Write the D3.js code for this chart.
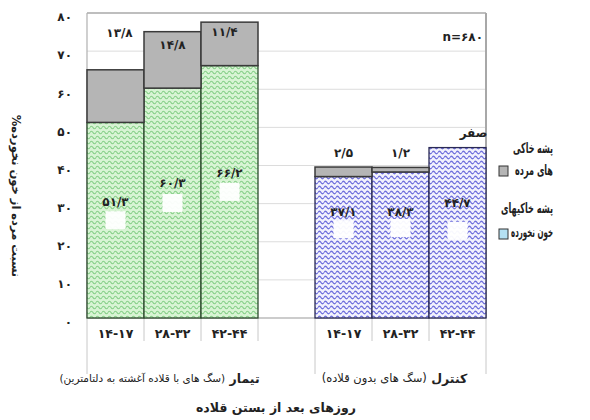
<!DOCTYPE html>
<html><head><meta charset="utf-8">
<script src="https://cdn.jsdelivr.net/npm/d3@7"></script>
<style>
html,body{margin:0;padding:0;background:#fff;}
text{font-family:"DejaVu Sans",sans-serif;}
</style></head>
<body>
<svg id="chart" width="590" height="420"></svg>
<script>
// ---- data ----
const categories   = ["۱۴-۱۷","۲۸-۳۲","۴۲-۴۴","","۱۴-۱۷","۲۸-۳۲","۴۲-۴۴"];
const unfedValues  = [51.3, 60.3, 66.2, null, 37.1, 38.3, 44.7];
const deadValues   = [13.8, 14.8, 11.4, null, 2.5, 1.2, 0];
const unfedLabels  = ["۵۱/۳","۶۰/۳","۶۶/۲","","۳۷/۱","۳۸/۳","۴۴/۷"];
const deadLabels   = ["۱۳/۸","۱۴/۸","۱۱/۴","","۲/۵","۱/۲","صفر"];
const yTickValues  = [0,10,20,30,40,50,60,70,80];
const yTickLabels  = ["۰","۱۰","۲۰","۳۰","۴۰","۵۰","۶۰","۷۰","۸۰"];
const groupNames   = ["تیمار","کنترل"];
const groupDetails = ["(سگ های با قلاده آغشته به دلتامترین)","(سگ های بدون قلاده)"];
const groupRanges  = [[0,2],[4,6]];
const legendLabels = [["پشه خاکی","های مرده"],["پشه خاکیهای","خون نخورده"]];
const yTitle = "نسبت مرده از خون نخورده%";
const xTitle = "روزهای بعد از بستن قلاده";
const nLabel = "n=۶۸۰";

// ---- layout (label nudges, px) ----
const deadNudgeY  = [-37, 13, 10, 0, -14, -14, -15];
const deadNudgeX  = [4, 0, -5, 0, 0, 0, 16];
const unfedLblDY  = [-18, -20, -19, 0, -35, -33, -30];
const boxDY       = [0, 0, 0, 0, -18, -17, -2];
const groupNudgeX = [-13, -6];
const legendTextW = [[40, 38], [52, 42]];

const svg = d3.select("#chart");
const L = 87, R = 486, T = 13, B = 318;
const x = d3.scaleBand().domain(d3.range(categories.length)).range([L, R]).padding(0);
const y = d3.scaleLinear().domain([0, 80]).range([B, T]);

// patterns
const defs = svg.append("defs");
function wave(id, bg, fg, sw){
  const p = defs.append("pattern").attr("id", id).attr("patternUnits","userSpaceOnUse")
    .attr("width", 6).attr("height", 5);
  p.append("rect").attr("width",6).attr("height",5).attr("fill",bg);
  p.append("path").attr("d","M0,2.5 Q1.5,0 3,2.5 T6,2.5").attr("fill","none")
    .attr("stroke",fg).attr("stroke-width",sw);
}
wave("wGreen", "#d8f4d4", "#86cf88", 1.2);
wave("wBlue", "#f2f2fd", "#6f6fdc", 1.3);

// gridlines
svg.append("g").selectAll("line").data(yTickValues.filter(v => v > 0)).join("line")
  .attr("x1", L).attr("x2", R).attr("y1", d => y(d)).attr("y2", d => y(d))
  .attr("stroke", d => d === 80 ? "#a8a8a8" : "#dcdcdc").attr("stroke-width", d => d === 80 ? 1.5 : 1);
// plot borders
svg.append("line").attr("x1", L).attr("x2", L).attr("y1", T).attr("y2", B).attr("stroke","#b0b0b0").attr("stroke-width",1.2);
svg.append("line").attr("x1", R).attr("x2", R).attr("y1", T).attr("y2", B).attr("stroke","#a8a8a8").attr("stroke-width",2);
// baseline
svg.append("line").attr("x1", L).attr("x2", R).attr("y1", B).attr("y2", B).attr("stroke","#999").attr("stroke-width",1.2);

// y tick labels
const yAxis = d3.axisLeft(y).tickValues(yTickValues).tickSize(0).tickPadding(0)
  .tickFormat((d,i) => yTickLabels[i]);
const gy = svg.append("g").attr("transform", `translate(72,4)`).call(yAxis);
gy.select(".domain").remove();
gy.selectAll("text").attr("font-family","DejaVu Sans").attr("font-weight","bold")
  .attr("font-size", 12).attr("fill","#222");

// x ticks (category separators)
const edges = d3.range(categories.length + 1).map(i => i < categories.length ? x(i) : R);
const longIdx = new Set([0, 4, categories.length]);
svg.append("g").selectAll("line").data(edges).join("line")
  .attr("x1", d => d).attr("x2", d => d).attr("y1", B)
  .attr("y2", (d,i) => longIdx.has(i) ? 374 : 341)
  .attr("stroke", "#c8c8c8").attr("stroke-width", 1);

// bars
const idx = d3.range(categories.length).filter(i => unfedValues[i] !== null);
const isTreat = i => i >= groupRanges[0][0] && i <= groupRanges[0][1];
const bars = svg.append("g");
bars.selectAll("rect.unfed").data(idx).join("rect").attr("class","unfed")
  .attr("x", i => x(i)).attr("width", x.bandwidth())
  .attr("y", i => y(unfedValues[i])).attr("height", i => B - y(unfedValues[i]))
  .attr("fill", i => isTreat(i) ? "url(#wGreen)" : "url(#wBlue)")
  .attr("stroke", i => isTreat(i) ? "#2f4a2f" : "#2a2a55").attr("stroke-width", 1.3);
bars.selectAll("rect.dead").data(idx.filter(i => deadValues[i] > 0)).join("rect").attr("class","dead")
  .attr("x", i => x(i)).attr("width", x.bandwidth())
  .attr("y", i => y(unfedValues[i] + deadValues[i]))
  .attr("height", i => y(unfedValues[i]) - y(unfedValues[i] + deadValues[i]))
  .attr("fill", "#b5b5b5").attr("stroke", "#3a3a3a").attr("stroke-width", 1.5);

// white label boxes at segment middles
svg.append("g").selectAll("rect").data(idx).join("rect")
  .attr("x", i => x(i) + x.bandwidth()/2 - 10).attr("width", 20)
  .attr("y", i => y(unfedValues[i]/2) + boxDY[i] - 9).attr("height", 18)
  .attr("fill", "#fff").attr("opacity", 0.95);

// unfed labels
svg.append("g").selectAll("text").data(idx).join("text")
  .attr("x", i => x(i) + x.bandwidth()/2).attr("y", i => y(unfedValues[i]/2) + unfedLblDY[i])
  .attr("text-anchor","middle").attr("dominant-baseline","central")
  .attr("font-weight","bold").attr("font-size",12).attr("fill","#222")
  .text(i => unfedLabels[i]);

// dead labels
svg.append("g").selectAll("text").data(idx).join("text")
  .attr("x", i => x(i) + x.bandwidth()/2 + deadNudgeX[i])
  .attr("y", i => y(unfedValues[i] + deadValues[i]) + deadNudgeY[i])
  .attr("text-anchor","middle").attr("dominant-baseline","central")
  .attr("font-weight","bold").attr("font-size",12).attr("fill","#222")
  .text(i => deadLabels[i]);

// n label
svg.append("text").attr("x", R - 3).attr("y", 37).attr("text-anchor","end")
  .attr("dominant-baseline","central").attr("font-weight","bold").attr("font-size",12)
  .attr("fill","#222").text(nLabel);

// category labels
svg.append("g").selectAll("text").data(idx).join("text")
  .attr("x", i => x(i) + x.bandwidth()/2).attr("y", 333)
  .attr("text-anchor","middle").attr("dominant-baseline","central")
  .attr("font-weight","bold").attr("font-size",12.5).attr("fill","#222")
  .text(i => categories[i]);

// group labels
groupNames.forEach((g, k) => {
  const [a, b] = groupRanges[k];
  const cx = (x(a) + x(b) + x.bandwidth()) / 2 + groupNudgeX[k];
  const t = svg.append("text").attr("x", cx).attr("y", 378).attr("text-anchor","middle")
    .attr("dominant-baseline","central").attr("direction","rtl").attr("fill","#222");
  t.append("tspan").attr("font-weight","bold").attr("font-size",12.5).text(g + " ");
  t.append("tspan").attr("font-size",k === 0 ? 10.5 : 11.5).text(groupDetails[k]);
});

// x title
svg.append("text").attr("x", 276).attr("y", 407).attr("text-anchor","middle")
  .attr("dominant-baseline","central").attr("direction","rtl")
  .attr("font-weight","bold").attr("font-size",12.5).attr("fill","#222").text(xTitle);

// y title
svg.append("text").attr("transform","translate(16,196) rotate(90)")
  .attr("text-anchor","middle").attr("dominant-baseline","central").attr("direction","rtl")
  .attr("font-weight","bold").attr("font-size",11.5).attr("fill","#222").text(yTitle);

// legend
const lg = svg.append("g");
const swY = [171, 234];
const swFill = ["#b5b5b5", "#b4e0f2"];
const txtY = [[148,170],[208,233]];
swY.forEach((sy, k) => {
  lg.append("rect").attr("x", 499).attr("y", sy - 5).attr("width", 9).attr("height", 10)
    .attr("fill", swFill[k]).attr("stroke", "#333").attr("stroke-width", 1);
  legendLabels[k].forEach((line, j) => {
    const g = lg.append("g");
    const t = g.append("text").attr("x", 0).attr("y", 0).attr("text-anchor","end")
      .attr("dominant-baseline","central").attr("font-weight","bold").attr("font-size",14)
      .attr("fill","#222").text(line);
    const w = t.node().getComputedTextLength() || legendTextW[k][j];
    const sx = Math.min(1, legendTextW[k][j] / w);
    g.attr("transform", `translate(553,${txtY[k][j]}) scale(${sx},1)`);
  });
});
</script>
</body></html>
